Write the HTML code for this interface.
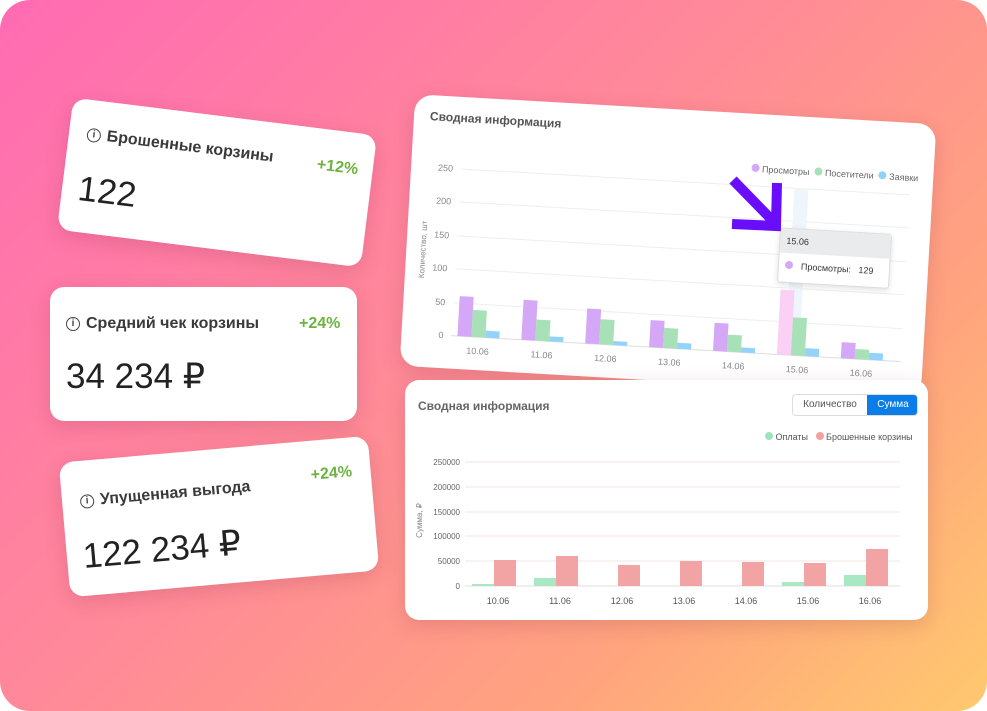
<!DOCTYPE html>
<html><head><meta charset="utf-8"><style>
*{margin:0;padding:0;box-sizing:border-box}
body{width:987px;height:711px;background:#fff;overflow:hidden;font-family:"Liberation Sans",sans-serif;position:relative}
.bg{position:absolute;left:0;top:0;width:987px;height:711px;border-radius:30px;background:linear-gradient(135deg,#ff6bb3 0%,#ff8a98 45%,#ffa47e 75%,#ffc96e 100%)}
.card{position:absolute;background:#fff;border-radius:14px;box-shadow:0 6px 20px rgba(120,40,60,.18)}
.t{position:absolute;white-space:nowrap}
.ic{display:inline-block;width:14px;height:14px;border:1.5px solid #444;border-radius:50%;font-size:10px;line-height:11px;text-align:center;font-weight:bold;color:#444;vertical-align:2px;margin-right:6px}
.ttl{font-size:16px;font-weight:bold;color:#3a3a3a}
.pct{font-size:16px;font-weight:bold;color:#6cb33f}
.num{font-size:35px;color:#222}
</style></head><body>
<div class="bg"></div>

<div class="card" style="left:64px;top:116px;width:306px;height:133px;transform:rotate(7.1deg)">
 <div class="t ttl" style="left:18px;top:26px"><span class="ic">i</span>Брошенные корзины</div>
 <div class="t pct" style="left:250px;top:28px">+12%</div>
 <div class="t num" style="left:16px;top:70px">122</div>
</div>

<div class="card" style="left:50px;top:287px;width:307px;height:134px">
 <div class="t ttl" style="left:16px;top:28px"><span class="ic">i</span>Средний чек корзины</div>
 <div class="t pct" style="left:249px;top:28px">+24%</div>
 <div class="t num" style="left:16px;top:70px">34 234 ₽</div>
</div>

<div class="card" style="left:64px;top:449px;width:310px;height:135px;transform:rotate(-5deg)">
 <div class="t ttl" style="left:18px;top:32px"><span class="ic">i</span>Упущенная выгода</div>
 <div class="t pct" style="left:250px;top:26px">+24%</div>
 <div class="t num" style="left:16px;top:76px">122 234 ₽</div>
</div>

<!-- top chart -->
<div class="card" style="left:407px;top:109px;width:522px;height:272px;transform:rotate(3.3deg);border-radius:18px">
 <div class="t" style="left:16px;top:14px;font-size:12px;font-weight:bold;color:#555">Сводная информация</div>
 <div class="t" style="left:340px;top:50px;font-size:9px;color:#666">
  <span style="display:inline-block;width:8px;height:8px;border-radius:50%;background:#d4a8f7"></span> Просмотры &nbsp;<span style="display:inline-block;width:8px;height:8px;border-radius:50%;background:#a8e0b8"></span> Посетители &nbsp;<span style="display:inline-block;width:8px;height:8px;border-radius:50%;background:#92d2fb"></span> Заявки</div>
 <div class="t" style="left:-12px;top:150px;font-size:8px;color:#888;transform:rotate(-90deg)">Количество, шт</div>
 <svg style="position:absolute;left:0;top:0" width="522" height="272">
  <g stroke="#eee" stroke-width="1">
   <line x1="50" y1="72" x2="500" y2="72"/><line x1="50" y1="105" x2="500" y2="105"/><line x1="50" y1="139" x2="500" y2="139"/><line x1="50" y1="172" x2="500" y2="172"/><line x1="50" y1="206" x2="500" y2="206"/><line x1="50" y1="239" x2="500" y2="239" stroke="#ddd"/>
  </g>
  <g font-size="9" fill="#888" text-anchor="end" font-family="Liberation Sans">
   <text x="42" y="75">250</text><text x="42" y="108">200</text><text x="42" y="142">150</text><text x="42" y="175">100</text><text x="42" y="209">50</text><text x="42" y="242">0</text>
  </g>
  <rect x="384" y="72" width="14" height="167" fill="#eef5fb"/>
  <g>
   <rect x="56" y="199" width="14" height="40" fill="#d4a8f7"/><rect x="70" y="212" width="14" height="27" fill="#a8e0b8"/><rect x="84" y="232" width="14" height="7" fill="#92d2fb"/>
   <rect x="120" y="199" width="14" height="40" fill="#d4a8f7"/><rect x="134" y="218" width="14" height="21" fill="#a8e0b8"/><rect x="148" y="234" width="14" height="5" fill="#92d2fb"/>
   <rect x="184" y="204" width="14" height="35" fill="#d4a8f7"/><rect x="198" y="214" width="14" height="25" fill="#a8e0b8"/><rect x="212" y="235" width="14" height="4" fill="#92d2fb"/>
   <rect x="248" y="212" width="14" height="27" fill="#d4a8f7"/><rect x="262" y="219" width="14" height="20" fill="#a8e0b8"/><rect x="276" y="233" width="14" height="6" fill="#92d2fb"/>
   <rect x="312" y="211" width="14" height="28" fill="#d4a8f7"/><rect x="326" y="222" width="14" height="17" fill="#a8e0b8"/><rect x="340" y="234" width="14" height="5" fill="#92d2fb"/>
   <rect x="376" y="174" width="14" height="65" fill="#fbd0f5"/><rect x="390" y="201" width="14" height="38" fill="#a8e0b8"/><rect x="404" y="231" width="14" height="8" fill="#92d2fb"/>
   <rect x="440" y="223" width="14" height="16" fill="#d4a8f7"/><rect x="454" y="229" width="14" height="10" fill="#a8e0b8"/><rect x="468" y="232" width="14" height="7" fill="#92d2fb"/>
  </g>
  <g font-size="9" fill="#888" text-anchor="middle" font-family="Liberation Sans">
   <text x="77" y="256">10.06</text><text x="141" y="256">11.06</text><text x="205" y="256">12.06</text><text x="269" y="256">13.06</text><text x="333" y="256">14.06</text><text x="397" y="256">15.06</text><text x="461" y="256">16.06</text>
  </g>
 </svg>
 <div style="position:absolute;left:372px;top:112px;width:112px;height:55px;background:#fff;border:1px solid #ddd;border-radius:3px;box-shadow:0 2px 6px rgba(0,0,0,.12);font-size:9px;color:#333;white-space:nowrap">
  <div style="background:#e9ebed;height:24px;padding:7px 6px">15.06</div>
  <div style="padding:8px 6px"><span style="display:inline-block;width:8px;height:8px;border-radius:50%;background:#d4a8f7;margin-right:8px"></span>Просмотры: &nbsp;&nbsp;129</div>
 </div>
</div>

<svg style="position:absolute;left:0;top:0" width="987" height="711">
 <g stroke="#6a0dfa" stroke-width="10" fill="none" stroke-linecap="butt">
  <line x1="733" y1="180" x2="773" y2="221"/>
  <polyline points="732,224 776,226 777,183"/>
 </g>
</svg>

<!-- bottom chart -->
<div class="card" style="left:405px;top:380px;width:523px;height:240px">
 <div class="t" style="left:13px;top:19px;font-size:12px;font-weight:bold;color:#666">Сводная информация</div>
 <div style="position:absolute;left:387px;top:14px;width:126px;height:22px;border:1px solid #ddd;border-radius:4px;font-size:10px;color:#555;overflow:hidden">
  <div style="position:absolute;left:0;top:0;width:74px;height:22px;line-height:20px;text-align:center">Количество</div>
  <div style="position:absolute;left:74px;top:-1px;width:52px;height:22px;line-height:22px;text-align:center;background:#0a7de8;color:#fff">Сумма</div>
 </div>
 <div class="t" style="left:360px;top:52px;font-size:9px;color:#555"><span style="display:inline-block;width:8px;height:8px;border-radius:50%;background:#9ee3bd"></span> Оплаты &nbsp;&nbsp;<span style="display:inline-block;width:8px;height:8px;border-radius:50%;background:#f4a0a0"></span> Брошенные корзины</div>
 <div class="t" style="left:-3px;top:136px;font-size:8px;color:#888;transform:rotate(-90deg)">Сумма, ₽</div>
 <svg style="position:absolute;left:0;top:0" width="523" height="240">
  <g stroke="#f5e6e2" stroke-width="1"><line x1="60" y1="82" x2="495" y2="82"/><line x1="60" y1="107" x2="495" y2="107"/><line x1="60" y1="132" x2="495" y2="132"/><line x1="60" y1="156" x2="495" y2="156"/><line x1="60" y1="181" x2="495" y2="181"/><line x1="60" y1="206" x2="495" y2="206" stroke="#e6dcdc"/></g>
  <g font-size="8" fill="#666" text-anchor="end" font-family="Liberation Sans"><text x="55" y="85">250000</text><text x="55" y="110">200000</text><text x="55" y="135">150000</text><text x="55" y="159">100000</text><text x="55" y="184">50000</text><text x="55" y="209">0</text></g>
  <g fill="#f2a3a3">
   <rect x="89" y="180" width="22" height="26"/><rect x="151" y="176" width="22" height="30"/><rect x="213" y="185" width="22" height="21"/><rect x="275" y="181" width="22" height="25"/><rect x="337" y="182" width="22" height="24"/><rect x="399" y="183" width="22" height="23"/><rect x="461" y="169" width="22" height="37"/>
  </g>
  <g fill="#a8e8c4"><rect x="67" y="204" width="22" height="2"/><rect x="129" y="198" width="22" height="8"/><rect x="377" y="202" width="22" height="4"/><rect x="439" y="195" width="22" height="11"/></g>
  <g font-size="9" fill="#555" text-anchor="middle" font-family="Liberation Sans"><text x="93" y="224">10.06</text><text x="155" y="224">11.06</text><text x="217" y="224">12.06</text><text x="279" y="224">13.06</text><text x="341" y="224">14.06</text><text x="403" y="224">15.06</text><text x="465" y="224">16.06</text></g>
 </svg>
</div>
</body></html>
